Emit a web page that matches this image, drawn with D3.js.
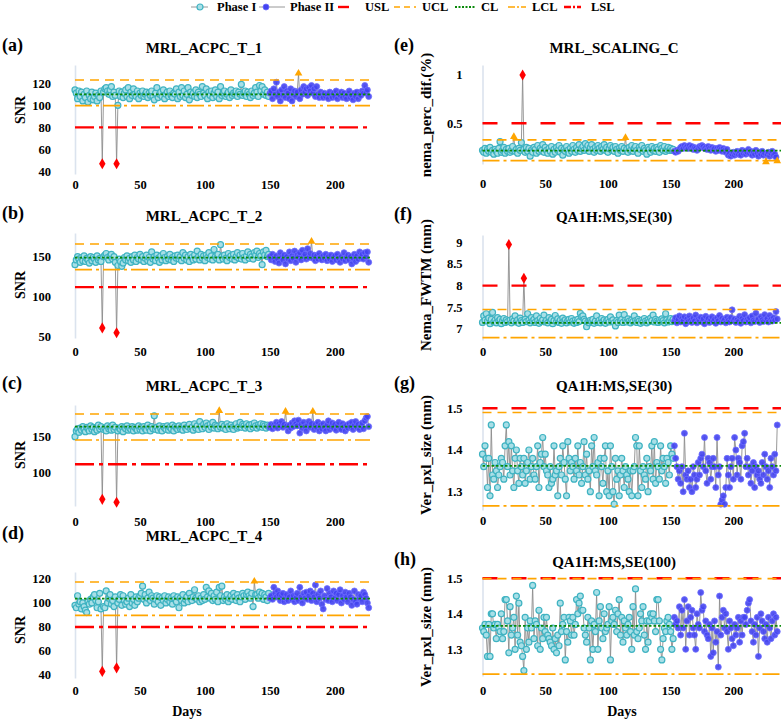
<!DOCTYPE html>
<html>
<head>
<meta charset="utf-8">
<script src="https://cdn.jsdelivr.net/npm/d3@7"></script>
<style>
  body { margin: 0; background: #fff; }
  svg text { font-family: "Times New Roman", "Liberation Serif", serif; font-weight: bold; fill: #000; }
</style>
</head>
<body>
<div id="chart"></div>
<script>
// ---- data ----
const xTicks = [0, 50, 100, 150, 200];
const legendLabels = ['Phase I', 'Phase II', 'USL', 'UCL', 'CL', 'LCL', 'LSL'];
const phaseIIStartLeft = 150;
const phaseIIStartRight = 153;

const acpcT1I = [
114,111,106,113,108,112,104,110,107,113, 103,109,106,112,105,108,111,104,109,107,
113,47,112,115,116,113,110,114,117,108, 112,109,47,100,113,108,112,107,111,114,
108,116,106,112,109,115,110,108,113,106, 111,109,113,108,110,112,107,111,109,113,
108,105,111,116,107,110,112,108,114,106, 110,112,108,113,109,107,111,110,115,106,
112,108,116,109,113,107,110,116,105,112, 109,111,108,114,107,112,110,108,117,111,
109,115,106,112,109,113,107,111,114,108, 112,106,117,109,111,113,108,110,112,107,
114,109,111,110,113,108,112,110,119,109, 111,113,108,112,110,107,113,109,111,116,
112,108,118,113,117,110,114,109,112,108];
const acpcT1II = [
111,113,106,115,110,121,108,112,104,114, 109,117,107,113,111,106,115,104,110,113,
108,112,129,106,114,110,117,112,115,109, 116,113,118,111,115,108,117,110,107,112,
109,107,111,108,110,106,112,109,107,111, 108,113,106,110,109,112,107,111,108,106,
110,113,107,109,105,111,108,112,106,110, 109,113,111,118,112,114,108];

const acpcT2I = [
140,146,150,147,143,149,145,151,144,148, 146,142,150,145,149,147,143,151,146,148,
144,61,150,152,154,149,146,151,153,147, 150,143,55,139,147,144,138,142,149,146,
151,145,148,143,150,146,152,144,149,147, 153,146,150,144,148,152,145,149,143,156,
147,150,145,152,148,143,151,146,154,149, 145,150,147,153,146,149,144,151,148,152,
147,150,145,155,148,152,146,150,144,153, 149,146,152,147,157,150,146,153,148,151,
145,152,149,155,147,151,146,159,150,148, 153,146,165,150,147,152,148,145,154,149,
151,147,153,146,150,155,148,152,147,154, 149,146,151,156,148,153,150,147,155,152,
157,149,154,151,140,156,152,158,150,153];
const acpcT2II = [
150,146,153,148,144,151,147,142,155,149, 146,152,141,150,147,156,145,151,148,157,
143,152,149,155,146,158,150,153,147,160, 149,154,169,148,152,145,151,147,154,149,
146,151,148,153,145,150,147,152,144,149, 151,146,153,148,143,150,147,155,145,149,
152,146,150,141,148,153,144,151,147,156, 149,153,147,155,150,156,143];

const acpcT3I = [
150,158,161,156,162,159,164,160,157,163, 161,158,165,160,163,157,162,159,166,161,
164,63,160,162,158,165,161,163,159,166, 160,163,59,158,162,160,164,157,163,161,
165,159,162,160,164,158,163,161,159,165, 160,163,158,164,161,159,166,162,158,164,
161,179,160,163,159,165,161,158,164,162, 160,165,159,163,161,166,158,164,162,160,
165,161,163,159,166,162,160,164,167,161, 163,159,168,162,165,160,171,164,161,167,
163,169,165,160,167,163,170,162,166,164, 161,186,163,167,162,165,160,168,164,161,
166,163,160,165,168,162,164,170,163,167, 165,162,168,164,166,161,167,163,169,165,
162,166,164,168,163,167,165,162,166,164];
const acpcT3II = [
163,167,161,166,164,170,162,168,165,171, 163,167,185,165,158,166,162,169,164,172,
168,165,173,155,167,162,170,164,158,166, 171,163,168,185,160,167,163,170,158,166,
161,168,163,158,166,172,160,164,169,162, 167,159,165,170,162,160,168,164,158,166,
162,168,164,170,160,166,171,163,167,160, 165,169,161,172,176,178,164];

const acpcT4I = [
98,96,106,99,101,95,100,97,94,92, 101,99,103,100,105,107,102,96,101,108,
95,43,97,96,110,100,104,107,99,102, 97,105,46,100,103,107,98,106,102,99,
101,104,97,107,100,103,98,105,101,104, 106,108,114,103,107,100,104,109,102,106,
104,99,103,106,101,105,98,104,102,106, 100,103,105,101,104,99,106,103,101,105,
96,104,102,107,100,103,105,101,108,104, 102,105,111,104,103,106,101,104,102,107,
103,113,105,110,104,108,102,106,103,109, 101,113,106,114,102,105,103,107,101,104,
106,103,108,105,102,107,104,101,105,108, 106,103,107,109,106,104,108,97,118,107,
107,104,109,106,108,103,107,105,102,108];
const acpcT4II = [
104,106,103,113,108,105,110,107,102,106, 108,101,104,107,102,105,110,103,106,101,
104,108,102,113,105,100,108,104,109,103, 106,110,102,108,105,115,101,107,104,110,
99,95,106,103,112,102,108,105,101,110, 104,108,102,107,111,100,106,103,109,105,
101,108,105,98,103,110,101,99,107,104, 106,101,109,107,104,100,96];

const scalingCI = [
.22,.20,.24,.19,.23,.21,.25,.20,.22,.18, .23,.21,.19,.24,.31,.20,.22,.25,.19,.23,
.21,.24,.20,.22,.26,.36,.21,.23,.19,.24, .22,.30,1.00,.23,.20,.25,.21,.24,.16,.22,
.20,.25,.23,.19,.27,.21,.24,.22,.28,.20, .25,.22,.19,.24,.21,.26,.18,.23,.20,.25,
.22,.27,.20,.24,.17,.23,.21,.26,.22,.19, .24,.21,.27,.23,.20,.25,.22,.28,.21,.24,
.26,.22,.29,.24,.27,.21,.25,.28,.23,.20, .25,.22,.27,.24,.21,.26,.23,.28,.22,.25,
.20,.24,.27,.22,.25,.21,.26,.23,.19,.24, .22,.26,.21,.24,.35,.23,.20,.25,.22,.27,
.21,.24,.26,.22,.19,.25,.23,.27,.21,.24, .22,.18,.25,.23,.20,.26,.22,.24,.21,.25,
.23,.20,.27,.24,.22,.26,.21,.23,.25,.22, .24,.22,.23];
const scalingCII = [
.21,.20,.22,.21,.23,.25,.26,.24,.27,.25, .26,.24,.27,.25,.26,.23,.25,.24,.22,.24,
.26,.25,.27,.26,.24,.25,.23,.26,.24,.22, .25,.23,.24,.21,.24,.22,.25,.23,.21,.24,
.22,.20,.23,.17,.19,.16,.18,.20,.17,.19, .21,.18,.20,.17,.22,.19,.21,.18,.20,.23,
.19,.21,.17,.20,.18,.22,.19,.16,.20,.18, .21,.17,.19,.10,.18,.20,.16,.19,.21,.17,
.18,.15,.11];

const fwtm30I = [
7.15,7.30,7.20,7.35,7.18,7.25,7.12,7.22,7.38,7.16, 7.20,7.14,7.26,7.18,7.22,7.12,7.19,7.24,7.15,7.21,
7.17,8.95,7.20,7.14,7.23,7.18,7.30,7.16,7.21,7.13, 7.25,7.19,7.15,8.17,7.22,7.17,7.35,7.20,7.14,7.26,
7.18,7.22,7.15,7.30,7.19,7.13,7.24,7.17,7.21,7.32, 7.16,7.20,7.14,7.26,7.18,7.22,7.12,7.19,7.31,7.17,
7.23,7.15,7.20,7.13,7.25,7.18,7.21,7.14,7.19,7.22, 7.16,7.24,7.18,7.13,7.20,7.15,7.22,7.17,7.36,7.28,
7.30,7.22,7.18,7.05,7.16,7.14,7.20,7.17,7.22,7.13, 7.18,7.30,7.15,7.20,7.14,7.24,7.17,7.21,7.13,7.19,
7.22,7.16,7.28,7.18,7.21,7.14,7.07,7.19,7.15,7.32, 7.18,7.22,7.15,7.33,7.20,7.16,7.23,7.18,7.14,7.21,
7.17,7.30,7.19,7.15,7.22,7.18,7.13,7.20,7.16,7.24, 7.18,7.14,7.21,7.17,7.25,7.19,7.32,7.16,7.22,7.18,
7.15,7.20,7.17,7.23,7.19,7.14,7.35,7.21,7.16,7.19, 7.24,7.17,7.22];
const fwtm30II = [
7.18,7.26,7.14,7.22,7.30,7.16,7.24,7.19,7.28,7.12, 7.23,7.17,7.30,7.20,7.15,7.25,7.18,7.32,7.14,7.22,
7.19,7.27,7.16,7.23,7.12,7.29,7.18,7.24,7.15,7.21, 7.28,7.17,7.22,7.13,7.25,7.19,7.31,7.16,7.24,7.18,
7.22,7.14,7.27,7.20,7.16,7.26,7.44,7.19,7.23,7.15, 7.21,7.17,7.29,7.13,7.24,7.19,7.33,7.16,7.22,7.18,
7.26,7.14,7.30,7.20,7.17,7.36,7.19,7.23,7.15,7.28, 7.21,7.17,7.33,7.19,7.24,7.16,7.31,7.22,7.18,7.26,
7.20,7.40,7.23];

const pxl30I = [
1.39,1.36,1.41,1.38,1.31,1.38,1.29,1.46,1.34,1.33, 1.37,1.35,1.31,1.34,1.36,1.38,1.37,1.33,1.41,1.46,
1.36,1.42,1.34,1.41,1.35,1.31,1.38,1.40,1.35,1.32, 1.38,1.36,1.34,1.38,1.32,1.35,1.37,1.40,1.33,1.36,
1.38,1.34,1.33,1.36,1.41,1.31,1.37,1.39,1.43,1.36, 1.39,1.35,1.34,1.31,1.36,1.32,1.33,1.41,1.34,1.35,
1.29,1.36,1.38,1.34,1.41,1.37,1.33,1.29,1.42,1.38, 1.35,1.37,1.36,1.33,1.38,1.35,1.41,1.34,1.37,1.32,
1.36,1.42,1.34,1.39,1.33,1.35,1.30,1.41,1.36,1.43, 1.35,1.34,1.37,1.29,1.38,1.36,1.32,1.38,1.41,1.30,
1.35,1.29,1.41,1.36,1.30,1.27,1.38,1.33,1.35,1.29, 1.34,1.38,1.35,1.31,1.36,1.34,1.33,1.30,1.35,1.29,
1.35,1.36,1.43,1.41,1.29,1.41,1.35,1.31,1.36,1.34, 1.33,1.38,1.30,1.36,1.35,1.41,1.33,1.42,1.32,1.37,
1.36,1.33,1.41,1.35,1.38,1.36,1.32,1.38,1.37,1.34, 1.41,1.39,1.38];
const pxl30II = [
1.41,1.38,1.36,1.33,1.35,1.32,1.36,1.30,1.44,1.34, 1.33,1.35,1.31,1.33,1.30,1.36,1.34,1.31,1.33,1.37,
1.34,1.38,1.39,1.36,1.43,1.35,1.32,1.38,1.37,1.33, 1.36,1.38,1.36,1.31,1.43,1.34,1.36,1.27,1.28,1.29,
1.27,1.31,1.38,1.34,1.31,1.36,1.38,1.33,1.43,1.40, 1.34,1.38,1.37,1.33,1.41,1.42,1.44,1.36,1.38,1.34,
1.36,1.32,1.35,1.37,1.31,1.36,1.34,1.35,1.33,1.32, 1.37,1.34,1.39,1.36,1.33,1.35,1.31,1.38,1.36,1.34,
1.39,1.35,1.46];

const pxl100I = [
1.36,1.35,1.37,1.34,1.28,1.37,1.28,1.40,1.40,1.36, 1.37,1.33,1.37,1.36,1.35,1.40,1.33,1.35,1.44,1.44,
1.38,1.29,1.42,1.34,1.36,1.39,1.30,1.45,1.34,1.43, 1.32,1.31,1.28,1.24,1.39,1.30,1.36,1.32,1.38,1.36,
1.48,1.33,1.38,1.37,1.31,1.41,1.30,1.36,1.33,1.39, 1.35,1.39,1.34,1.33,1.32,1.31,1.36,1.30,1.33,1.29,
1.34,1.31,1.43,1.35,1.37,1.39,1.27,1.35,1.32,1.39, 1.38,1.34,1.39,1.34,1.37,1.44,1.40,1.43,1.45,1.41,
1.41,1.36,1.34,1.32,1.39,1.36,1.27,1.38,1.30,1.37, 1.35,1.46,1.30,1.38,1.42,1.36,1.33,1.40,1.35,1.36,
1.37,1.42,1.27,1.38,1.39,1.37,1.41,1.35,1.40,1.44, 1.34,1.39,1.32,1.38,1.36,1.34,1.37,1.39,1.35,1.30,
1.42,1.34,1.47,1.35,1.33,1.36,1.40,1.38,1.42,1.34, 1.30,1.38,1.32,1.38,1.40,1.39,1.40,1.38,1.35,1.44,
1.44,1.38,1.30,1.27,1.33,1.36,1.35,1.38,1.39,1.37, 1.35,1.30,1.33];
const pxl100II = [
1.39,1.37,1.38,1.36,1.42,1.34,1.41,1.36,1.44,1.30, 1.38,1.42,1.34,1.39,1.41,1.36,1.34,1.30,1.40,1.37,
1.36,1.46,1.41,1.42,1.35,1.38,1.34,1.33,1.37,1.28, 1.36,1.29,1.38,1.32,1.35,1.25,1.45,1.34,1.39,1.41,
1.36,1.40,1.35,1.30,1.38,1.36,1.33,1.31,1.37,1.34, 1.36,1.39,1.32,1.38,1.34,1.39,1.39,1.37,1.41,1.43,
1.44,1.38,1.35,1.32,1.37,1.34,1.39,1.28,1.36,1.40, 1.38,1.35,1.33,1.37,1.32,1.39,1.36,1.33,1.38,1.40,
1.34,1.39,1.35];

// control / spec limits
const limT1 = { ucl: 123, cl: 110, lcl: 99.7, lsl: 80 };
const limT2 = { ucl: 165.9, cl: 148.8, lcl: 133.8, lsl: 112 };
const limT3 = { ucl: 181.5, cl: 163.9, lcl: 145.4, lsl: 111.7 };
const limT4 = { ucl: 117.5, cl: 103.7, lcl: 89.7, lsl: 80 };
const limScaling = { usl: 0.5, ucl: 0.328, cl: 0.217, lcl: 0.114 };
const limFwtm = { usl: 8, ucl: 7.45, cl: 7.14, lcl: 6.8 };
const limPxl30 = { usl: 1.5, ucl: 1.49, cl: 1.362, lcl: 1.266 };
const limPxl100 = { usl: 1.5, ucl: 1.499, cl: 1.366, lcl: 1.23 };

// ---- layout ----
const W = 782, H = 720;
const cols = [
  { x0: 75, x1: 370, xMax: 227, p2: phaseIIStartLeft, letterX: 2, yTitleX: 20, tickPad: 24, titleX: 204, daysX: 187, lineEnd: 370 },
  { x0: 482.5, x1: 778, xMax: 235.6, p2: phaseIIStartRight, letterX: 394, yTitleX: 426, tickPad: 20, titleX: 614, daysX: 622, lineEnd: 781 }
];

const panels = [
  { col: 0, letter: '(a)', title: 'MRL_ACPC_T_1', yTitle: 'SNR', s1: acpcT1I, s2: acpcT1II, lim: limT1,
    yDomain: [37.7, 136.6], yRange: [174, 65], yTicks: [40, 60, 80, 100, 120], titleY: 47.5, xLabY: 185, yTitleY: 110 },
  { col: 0, letter: '(b)', title: 'MRL_ACPC_T_2', yTitle: 'SNR', s1: acpcT2I, s2: acpcT2II, lim: limT2,
    yDomain: [48.4, 179.6], yRange: [338, 233], yTicks: [50, 100, 150], titleY: 216, xLabY: 352, yTitleY: 285 },
  { col: 0, letter: '(c)', title: 'MRL_ACPC_T_3', yTitle: 'SNR', s1: acpcT3I, s2: acpcT3II, lim: limT3,
    yDomain: [53.8, 194], yRange: [506, 405], yTicks: [100, 150], titleY: 386, xLabY: 521.5, yTitleY: 455 },
  { col: 0, letter: '(d)', title: 'MRL_ACPC_T_4', yTitle: 'SNR', s1: acpcT4I, s2: acpcT4II, lim: limT4,
    yDomain: [37.5, 125.8], yRange: [678, 572], yTicks: [40, 60, 80, 100, 120], titleY: 536, xLabY: 691, yTitleY: 630 },
  { col: 1, letter: '(e)', title: 'MRL_SCALING_C', yTitle: 'nema_perc_dif.(%)', s1: scalingCI, s2: scalingCII, lim: limScaling,
    yDomain: [0.0787, 1.1035], yRange: [164, 65], yTicks: [0.5, 1], titleY: 47.5, xLabY: 184, yTitleY: 115 },
  { col: 1, letter: '(f)', title: 'QA1H:MS,SE(30)', yTitle: 'Nema_FWTM (mm)', s1: fwtm30I, s2: fwtm30II, lim: limFwtm,
    yDomain: [6.744, 9.169], yRange: [340, 235], yTicks: [7, 7.5, 8, 8.5, 9], titleY: 217, xLabY: 352, yTitleY: 285 },
  { col: 1, letter: '(g)', title: 'QA1H:MS,SE(30)', yTitle: 'Ver_pxl_size (mm)', s1: pxl30I, s2: pxl30II, lim: limPxl30,
    yDomain: [1.2561, 1.5007], yRange: [510, 408], yTicks: [1.3, 1.4, 1.5], titleY: 386, xLabY: 521, yTitleY: 455 },
  { col: 1, letter: '(h)', title: 'QA1H:MS,SE(100)', yTitle: 'Ver_pxl_size (mm)', s1: pxl100I, s2: pxl100II, lim: limPxl100,
    yDomain: [1.2248, 1.5037], yRange: [676, 577], yTicks: [1.3, 1.4, 1.5], titleY: 562, xLabY: 691, yTitleY: 627 }
];

// line styles for limits
const limStyle = {
  usl: { color: '#ff0000', width: 2.4, dash: '15,14' },
  ucl: { color: '#ffa500', width: 1.6, dash: '9,6' },
  cl:  { color: '#0a8a0a', width: 1.8, dash: '2.5,2' },
  lcl: { color: '#ffa500', width: 1.6, dash: '17,4,3,4' },
  lsl: { color: '#ff0000', width: 2.4, dash: '19,5,4,5' }
};
const c1Fill = '#a8dfe7', c1Stroke = '#3fb3c2';
const c2Fill = '#4343f0', c2Stroke = '#6e6eff';

const svg = d3.select('#chart').append('svg')
  .attr('width', W).attr('height', H)
  .attr('viewBox', `0 0 ${W} ${H}`);

panels.forEach(p => {
  const c = cols[p.col];
  const x = d3.scaleLinear().domain([0, c.xMax]).range([c.x0, c.x1]);
  const y = d3.scaleLinear().domain(p.yDomain).range(p.yRange);
  const g = svg.append('g');

  const pts = p.s1.map((v, i) => ({ day: i, v, phase: 1 }))
    .concat(p.s2.map((v, i) => ({ day: c.p2 + i, v, phase: 2 })));

  // y axis
  const ya = g.append('g')
    .attr('transform', `translate(${c.x0},0)`)
    .call(d3.axisLeft(y).tickValues(p.yTicks).tickSize(0).tickSizeOuter(0).tickPadding(c.tickPad)
      .tickFormat(d3.format('~g')));
  ya.attr('font-family', null).attr('font-size', null);
  ya.select('.domain').attr('stroke', '#dbe3ee').attr('stroke-width', 1.6);
  ya.selectAll('text').style('font-size', '12.5px');

  // x axis labels
  const xa = g.append('g')
    .attr('transform', `translate(0,${p.xLabY})`)
    .call(d3.axisBottom(x).tickValues(xTicks).tickSize(0).tickPadding(0));
  xa.attr('font-family', null).attr('font-size', null);
  xa.select('.domain').remove();
  xa.selectAll('text').attr('y', 0).attr('dy', '0.35em').style('font-size', '12.5px');

  // connecting line
  g.append('path').datum(pts)
    .attr('fill', 'none').attr('stroke', '#8c8c8c').attr('stroke-width', 0.9)
    .attr('d', d3.line().x(d => x(d.day)).y(d => y(d.v)));

  const lim = p.lim;
  const spec = d => (lim.usl != null && d.v > lim.usl) || (lim.lsl != null && d.v < lim.lsl);
  const ctrl = d => !spec(d) && (d.v > lim.ucl || d.v < lim.lcl);

  g.append('g').selectAll('circle')
    .data(pts.filter(d => !spec(d) && !ctrl(d)))
    .join('circle')
    .attr('cx', d => x(d.day)).attr('cy', d => y(d.v)).attr('r', 3)
    .attr('fill', d => d.phase === 1 ? c1Fill : c2Fill)
    .attr('fill-opacity', d => d.phase === 1 ? 1 : 0.9)
    .attr('stroke', d => d.phase === 1 ? c1Stroke : c2Stroke)
    .attr('stroke-width', d => d.phase === 1 ? 1.2 : 0.8);

  // limit lines
  ['usl', 'ucl', 'cl', 'lcl', 'lsl'].forEach(k => {
    if (lim[k] == null) return;
    const s = limStyle[k];
    g.append('line')
      .attr('x1', c.x0).attr('x2', c.lineEnd)
      .attr('y1', y(lim[k])).attr('y2', y(lim[k]))
      .attr('stroke', s.color).attr('stroke-width', s.width)
      .attr('stroke-dasharray', s.dash);
  });

  // out-of-control markers
  g.append('g').selectAll('path')
    .data(pts.filter(ctrl))
    .join('path')
    .attr('transform', d => `translate(${x(d.day)},${y(d.v)})`)
    .attr('d', d3.symbol().type(d3.symbolTriangle).size(26))
    .attr('fill', '#ffa500');
  g.append('g').selectAll('path')
    .data(pts.filter(spec))
    .join('path')
    .attr('transform', d => `translate(${x(d.day)},${y(d.v)})`)
    .attr('d', d3.symbol().type(d3.symbolDiamond).size(36))
    .attr('fill', '#ff0000');

  // texts
  g.append('text').attr('x', c.letterX).attr('y', p.titleY - 3).attr('dy', '0.35em')
    .style('font-size', '18px').text(p.letter);
  g.append('text').attr('x', c.titleX).attr('y', p.titleY).attr('dy', '0.35em')
    .attr('text-anchor', 'middle').style('font-size', '15px').text(p.title);
  g.append('text')
    .attr('transform', `translate(${c.yTitleX},${p.yTitleY}) rotate(-90)`)
    .attr('dy', '0.35em').attr('text-anchor', 'middle')
    .style('font-size', p.col === 0 ? '14px' : '15px').text(p.yTitle);
});

// Days labels
cols.forEach(c => {
  svg.append('text').attr('x', c.daysX).attr('y', 711).attr('dy', '0.35em')
    .attr('text-anchor', 'middle').style('font-size', '14px').text('Days');
});

// legend
const legend = svg.append('g').attr('transform', 'translate(0,7)');
const legX = [
  { l0: 191, l1: 208, t: 217 },
  { l0: 259, l1: 285, t: 290 },
  { l0: 338, l1: 349, t: 365 },
  { l0: 394, l1: 416, t: 422 },
  { l0: 455, l1: 476, t: 481 },
  { l0: 508, l1: 526, t: 532 },
  { l0: 564, l1: 581, t: 591 }
];
const legKeys = [null, null, 'usl', 'ucl', 'cl', 'lcl', 'lsl'];
legendLabels.forEach((lab, i) => {
  const p = legX[i];
  const k = legKeys[i];
  if (k) {
    const s = limStyle[k];
    legend.append('line').attr('x1', p.l0).attr('x2', p.l1)
      .attr('stroke', s.color).attr('stroke-width', s.width)
      .attr('stroke-dasharray', k === 'usl' ? null : (k === 'lcl' || k === 'lsl' ? '7,2,2,2' : (k === 'cl' ? '2,1.5' : '6,4')));
  } else {
    legend.append('line').attr('x1', p.l0).attr('x2', p.l1)
      .attr('stroke', '#8c8c8c').attr('stroke-width', 0.9);
    legend.append('circle').attr('cx', i === 0 ? 200 : 266).attr('cy', 0).attr('r', 3)
      .attr('fill', i === 0 ? c1Fill : c2Fill)
      .attr('stroke', i === 0 ? c1Stroke : c2Stroke)
      .attr('stroke-width', i === 0 ? 1.2 : 0.8);
  }
  legend.append('text').attr('x', p.t).attr('y', 0).attr('dy', '0.35em')
    .style('font-size', '12.5px').text(lab);
});
</script>
</body>
</html>
